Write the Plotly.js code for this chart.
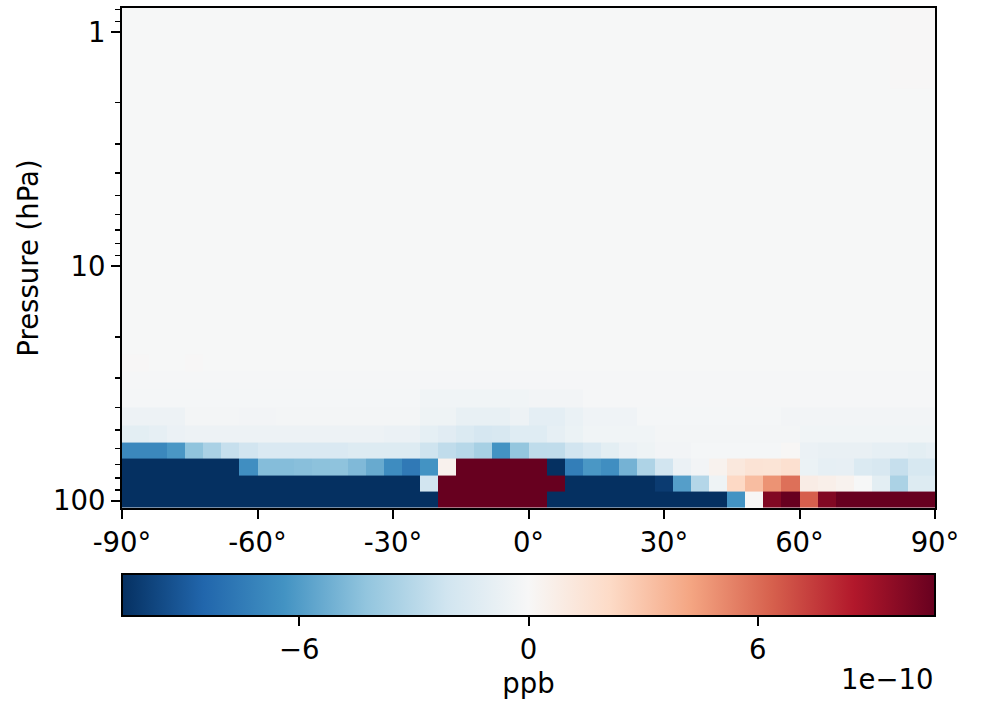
<!DOCTYPE html>
<html>
<head>
<meta charset="utf-8">
<script src="https://cdn.plot.ly/plotly-3.0.1.min.js"></script>
<style>html,body{margin:0;padding:0;background:#fff;}</style>
</head>
<body>
<div id="chart" style="width:981px;height:703px;"></div>
<script>
// Latitude centres (degrees)
const latitudes = [-90,-86,-82,-78,-74,-70,-66,-62,-58,-54,-50,-46,-42,-38,-34,-30,-26,-22,-18,-14,-10,-6,-2,
                   2,6,10,14,18,22,26,30,34,38,42,46,50,54,58,62,66,70,74,78,82,86,90];
// Pressure level centres (hPa), bottom to top
const pressureLevels = [99.4,84.9,72.0,61.3,52.1,43.7,36.65,30.85,25.9,21.8,18.3,15.4,12.9,10.9,9.15,7.7,
                        6.45,5.42,4.56,3.83,3.22,2.7,2.27,1.91,1.6,1.35,1.13,0.95,0.8];

// Values in units of 1e-10 ppb, one array per pressure level (lat -90 .. 90)
const lev099 = [-14,-14,-14,-14,-14,-14,-14,-14,-14,-14, -14,-14,-14,-14,-14,-14,-14,-14,14,14,
                14,14,14,14,-14,-14,-14,-14,-14,-14, -14,-14,-14,-14,-6.4,0.1,9.9,14,6.4,9.9,
                14,14,14,14,14,14];
const lev085 = [-14,-14,-14,-14,-14,-14,-14,-14,-14,-14, -14,-14,-14,-14,-14,-14,-14,-2.1,14,14,
                14,14,14,14,14,-14,-14,-14,-14,-14, -10.2,-5.9,-3.1,-0.5,2.2,3.3,4.8,5.9,0.8,0.6,
                0.4,-0.05,-1.1,-3.4,-1.45,-1.45];
const lev072 = [-14,-14,-14,-14,-14,-14,-14,-6.6,-4.6,-4.6, -4.5,-4.4,-4.35,-4.75,-5.4,-6.7,-7.6,-6.4,0.45,14,
                14,14,14,14,-14,-7.4,-6.2,-6.6,-5.05,-3.3, -2.1,-0.7,-0.3,0.4,1.15,1.5,1.45,1.75,-0.65,-0.95,
                -0.9,-1.55,-1.75,-2.5,-1.8,-1.8];
const lev061 = [-6.9,-6.9,-6.9,-6.2,-4.3,-3.45,-2.5,-2.1,-1.6,-1.6, -1.6,-1.6,-1.6,-1.45,-1.45,-1.45,-1.45,-2.2,-2.7,-3.0,
                -3.55,-6.4,-4.2,-2.75,-2.7,-2.1,-1.6,-1.1,-0.7,-0.5, -0.3,-0.3,-0.15,-0.15,-0.15,-0.15,-0.15,0.1,-0.7,-0.8,
                -0.8,-0.8,-0.95,-0.95,-1.1,-0.95];
const lev052 = [-1.1,-1.1,-0.95,-0.7,-0.55,-0.55,-0.55,-0.55,-0.55,-0.55, -0.55,-0.55,-0.55,-0.55,-0.55,-0.7,-0.7,-1.0,-1.25,-1.55,
                -1.85,-1.75,-1.35,-1.35,-0.95,-0.65,-0.4,-0.4,-0.4,-0.4, -0.2,-0.2,-0.2,-0.2,-0.2,-0.2,-0.2,-0.2,-0.4,-0.4,
                -0.4,-0.4,-0.4,-0.4,-0.4,-0.4];
const lev044 = [-0.55,-0.55,-0.55,-0.55,-0.2,-0.2,-0.2,-0.3,-0.3,-0.2, -0.2,-0.2,-0.2,-0.2,-0.2,-0.2,-0.2,-0.5,-0.5,-0.85,
                -0.85,-0.85,-0.55,-1.05,-1.05,-0.75,-0.45,-0.45,-0.45,-0.15, -0.15,-0.15,-0.15,-0.15,-0.15,-0.15,-0.15,-0.3,-0.3,-0.3,
                -0.3,-0.3,-0.3,-0.3,-0.3,-0.3];
const lev037 = [-0.15,-0.15,-0.15,-0.15,-0.15,-0.15,-0.15,-0.15,-0.15,-0.15, -0.15,-0.15,-0.15,-0.15,-0.15,-0.15,-0.15,-0.4,-0.4,-0.4,
                -0.4,-0.4,-0.4,-0.3,-0.3,-0.3,-0.1,-0.1,-0.1,-0.1, -0.1,-0.1,-0.1,-0.1,-0.1,-0.1,-0.1,-0.1,-0.1,-0.1,
                -0.1,-0.1,-0.1,-0.1,-0.1,-0.1];
const lev031 = [-0.1,-0.1,-0.1,-0.1,-0.1,-0.1,-0.1,-0.1,-0.1,-0.1, -0.1,-0.1,-0.1,-0.1,-0.1,-0.1,-0.1,-0.1,-0.1,-0.1,
                -0.1,-0.1,-0.1,-0.1,-0.1,-0.1,-0.1,-0.1,-0.1,-0.1, -0.1,-0.1,-0.1,-0.1,-0.1,-0.1,-0.1,-0.1,-0.1,-0.1,
                -0.1,-0.1,-0.1,-0.1,-0.1,-0.1];
const lev026 = [0.06,0.06,-0.05,-0.05,0.06,-0.05,-0.05,-0.05,-0.05,-0.05, -0.05,-0.05,-0.05,-0.05,-0.05,-0.05,-0.05,-0.05,-0.05,-0.05,
                -0.05,-0.05,-0.05,-0.05,-0.05,-0.05,-0.05,-0.05,-0.05,-0.05, -0.05,-0.05,-0.05,-0.05,-0.05,-0.05,-0.05,-0.05,-0.05,-0.05,
                -0.05,-0.05,-0.05,-0.05,-0.05,-0.05];
const levNearZero = [-0.05,-0.05,-0.05,-0.05,-0.05,-0.05,-0.05,-0.05,-0.05,-0.05, -0.05,-0.05,-0.05,-0.05,-0.05,-0.05,-0.05,-0.05,-0.05,-0.05,
                -0.05,-0.05,-0.05,-0.05,-0.05,-0.05,-0.05,-0.05,-0.05,-0.05, -0.05,-0.05,-0.05,-0.05,-0.05,-0.05,-0.05,-0.05,-0.05,-0.05,
                -0.05,-0.05,-0.05,-0.05,-0.05,-0.05];
const levTop = [-0.05,-0.05,-0.05,-0.05,-0.05,-0.05,-0.05,-0.05,-0.05,-0.05, -0.05,-0.05,-0.05,-0.05,-0.05,-0.05,-0.05,-0.05,-0.05,-0.05,
                -0.05,-0.05,-0.05,-0.05,-0.05,-0.05,-0.05,-0.05,-0.05,-0.05, -0.05,-0.05,-0.05,-0.05,-0.05,-0.05,-0.05,-0.05,-0.05,-0.05,
                -0.05,-0.05,-0.05,0.04,0.04,0.04];

const zRows = [lev099, lev085, lev072, lev061, lev052, lev044, lev037, lev031, lev026,
               levNearZero, levNearZero, levNearZero, levNearZero, levNearZero, levNearZero, levNearZero,
               levNearZero, levNearZero, levNearZero, levNearZero, levNearZero, levNearZero, levNearZero,
               levNearZero, levTop, levTop, levTop, levTop, levTop];

const latTickVals = [-90,-60,-30,0,30,60,90];
const latTickText = ['-90°','-60°','-30°','0°','30°','60°','90°'];
const presTickVals = [1,10,100];
const presTickText = ['1','10','100'];
const presMinorVals = [0.8,0.9,2,3,4,5,6,7,8,9,20,30,40,50,60,70,80,90];
const cbarTickVals = [-6,0,6];
const cbarTickText = ['\u22126','0','6'];

const rdbu_r = [[0,'rgb(5,48,97)'],[0.1,'rgb(33,102,172)'],[0.2,'rgb(67,147,195)'],[0.3,'rgb(146,197,222)'],
                [0.4,'rgb(209,229,240)'],[0.5,'rgb(247,247,247)'],[0.6,'rgb(253,219,199)'],[0.7,'rgb(244,165,130)'],
                [0.8,'rgb(214,96,77)'],[0.9,'rgb(178,24,43)'],[1,'rgb(103,0,31)']];

const FONT = 'DejaVu Sans, sans-serif';
const FS = 27.5;

const trace = {
  type: 'heatmap',
  x: latitudes,
  y: pressureLevels,
  z: zRows,
  zmin: -10.64, zmax: 10.64,
  colorscale: rdbu_r,
  zsmooth: false,
  hoverinfo: 'skip',
  colorbar: {
    orientation: 'h',
    x: 0.5, xanchor: 'center', xref: 'paper',
    y: -0.132, yanchor: 'top', yref: 'paper',
    len: 1, lenmode: 'fraction',
    thickness: 42, thicknessmode: 'pixels',
    xpad: 0, ypad: 0,
    outlinewidth: 2, outlinecolor: 'black',
    tickmode: 'array', tickvals: cbarTickVals, ticktext: cbarTickText,
    ticks: 'outside', ticklen: 9, tickwidth: 2, tickcolor: 'black',
    tickfont: {family: FONT, size: FS, color: 'black'},
    title: {text: 'ppb', side: 'bottom', font: {family: FONT, size: FS, color: 'black'}}
  }
};

const layout = {
  width: 981, height: 703,
  margin: {l: 122, r: 46, t: 8, b: 195, pad: 0, autoexpand: false},
  paper_bgcolor: 'white', plot_bgcolor: 'white',
  font: {family: FONT, size: FS, color: 'black'},
  showlegend: false,
  xaxis: {
    range: [-90, 90], tickmode: 'array', tickvals: latTickVals, ticktext: latTickText,
    ticks: 'outside', ticklen: 9, tickwidth: 2, tickcolor: 'black',
    showline: true, mirror: true, linewidth: 2, linecolor: 'black',
    showgrid: false, zeroline: false, tickfont: {family: FONT, size: FS}, automargin: false
  },
  yaxis: {
    type: 'log', range: [Math.log10(107.6), Math.log10(0.79)],
    tickmode: 'array', tickvals: presTickVals, ticktext: presTickText,
    ticks: 'outside', ticklen: 9, tickwidth: 2, tickcolor: 'black',
    minor: {tickmode: 'array', tickvals: presMinorVals, ticks: 'outside', ticklen: 5, tickwidth: 1.5, tickcolor: 'black', showgrid: false},
    showline: true, mirror: true, linewidth: 2, linecolor: 'black',
    showgrid: false, zeroline: false, tickfont: {family: FONT, size: FS}, automargin: false,
    title: {text: 'Pressure (hPa)', font: {family: FONT, size: FS}, standoff: 6}
  },
  annotations: [{
    text: '1e\u221210', xref: 'paper', yref: 'paper', x: 1, y: -0.342,
    xanchor: 'right', yanchor: 'middle', showarrow: false,
    font: {family: FONT, size: FS, color: 'black'}
  }]
};

Plotly.newPlot('chart', [trace], layout, {displayModeBar: false, staticPlot: true});
</script>
</body>
</html>
